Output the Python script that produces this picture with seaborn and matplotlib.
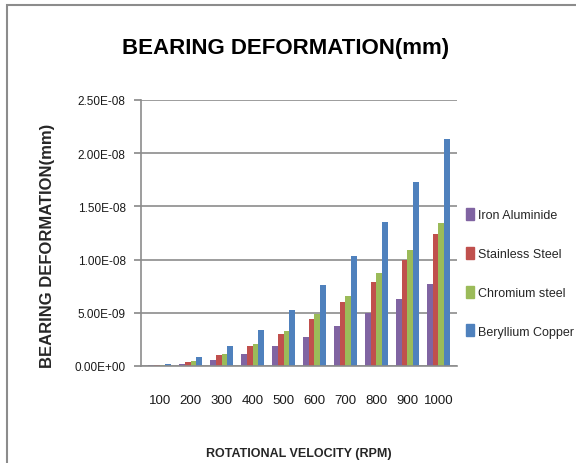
import matplotlib
matplotlib.use("Agg")
import matplotlib.pyplot as plt
import matplotlib.ticker as mticker
from matplotlib.patches import Rectangle
import seaborn as sns
import pandas as pd

rpm = ["100", "200", "300", "400", "500", "600", "700", "800", "900", "1000"]
iron_aluminide = [0.05e-9, 0.22e-9, 0.60e-9, 1.13e-9, 1.85e-9, 2.75e-9, 3.8e-9, 4.95e-9, 6.3e-9, 7.75e-9]
stainless_steel = [0.09e-9, 0.38e-9, 1.0e-9, 1.9e-9, 3.05e-9, 4.45e-9, 6.05e-9, 7.9e-9, 10.0e-9, 12.4e-9]
chromium_steel = [0.10e-9, 0.44e-9, 1.1e-9, 2.07e-9, 3.3e-9, 4.85e-9, 6.6e-9, 8.7e-9, 10.9e-9, 13.45e-9]
beryllium_copper = [0.20e-9, 0.80e-9, 1.85e-9, 3.35e-9, 5.25e-9, 7.6e-9, 10.35e-9, 13.55e-9, 17.25e-9, 21.3e-9]
series_names = ["Iron Aluminide", "Stainless Steel", "Chromium steel", "Beryllium Copper"]
colors = ["#8064A2", "#C0504D", "#9BBB59", "#4F81BD"]

df = pd.DataFrame({
    "rpm": rpm,
    series_names[0]: iron_aluminide,
    series_names[1]: stainless_steel,
    series_names[2]: chromium_steel,
    series_names[3]: beryllium_copper,
})
long = df.melt(id_vars="rpm", var_name="material", value_name="deformation")

sns.set_theme(style="white")
fam = ["Liberation Sans", "DejaVu Sans"]
plt.rcParams["font.family"] = fam

fig = plt.figure(figsize=(5.76, 4.64), dpi=100)
ax = fig.add_axes([141 / 576, 1 - 367 / 464, 316 / 576, 266 / 464])

sns.barplot(data=long, x="rpm", y="deformation", hue="material",
            palette=colors, width=0.72, ax=ax, legend=False,
            edgecolor="none", saturation=1)

ax.set_ylim(0, 2.5e-8)
ax.set_xlim(-0.6, 9.6)
ax.yaxis.set_major_locator(mticker.MultipleLocator(5e-9))
ax.yaxis.set_major_formatter(mticker.FuncFormatter(lambda v, p: f"{v:.2E}"))
ax.grid(axis="y", color="#8c8c8c", linewidth=1.2)
ax.set_axisbelow(True)
for s in ["top", "right"]:
    ax.spines[s].set_visible(False)
ax.spines["left"].set_color("#8c8c8c")
ax.spines["bottom"].set_color("#8c8c8c")
ax.spines["left"].set_linewidth(1.2)
ax.spines["bottom"].set_linewidth(1.2)
ax.tick_params(axis="y", length=5, color="#8c8c8c", left=True, labelsize=8.5, pad=6)
ax.tick_params(axis="x", length=0, labelsize=9.5, pad=20)
for lab in ax.get_yticklabels() + ax.get_xticklabels():
    lab.set_color("#1a1a1a")

ax.set_xlabel("ROTATIONAL VELOCITY (RPM)", fontsize=9, fontweight="bold", labelpad=30)
ax.set_ylabel("BEARING DEFORMATION(mm)", fontsize=12, fontweight="bold")
ax.yaxis.set_label_coords(-0.273, 0.455)

fig.text(0.495, 0.896, "BEARING DEFORMATION(mm)", ha="center", va="center",
         fontsize=16, fontweight="bold", color="#000000")

handles = [Rectangle((0, 0), 1, 1, color=c) for c in colors]
fig.legend(handles, series_names, loc="center left", bbox_to_anchor=(0.79, 0.41),
           frameon=False, fontsize=9, handlelength=0.6, handleheight=1.1,
           handletextpad=0.3, labelspacing=2.05)

fig.patches.append(Rectangle((7 / 576, -0.1), 2, 1.0 - 6 / 464 + 0.1,
                             transform=fig.transFigure, fill=False,
                             edgecolor="#8c8c8c", linewidth=1.5))

fig.savefig("out.png", dpi=100)
